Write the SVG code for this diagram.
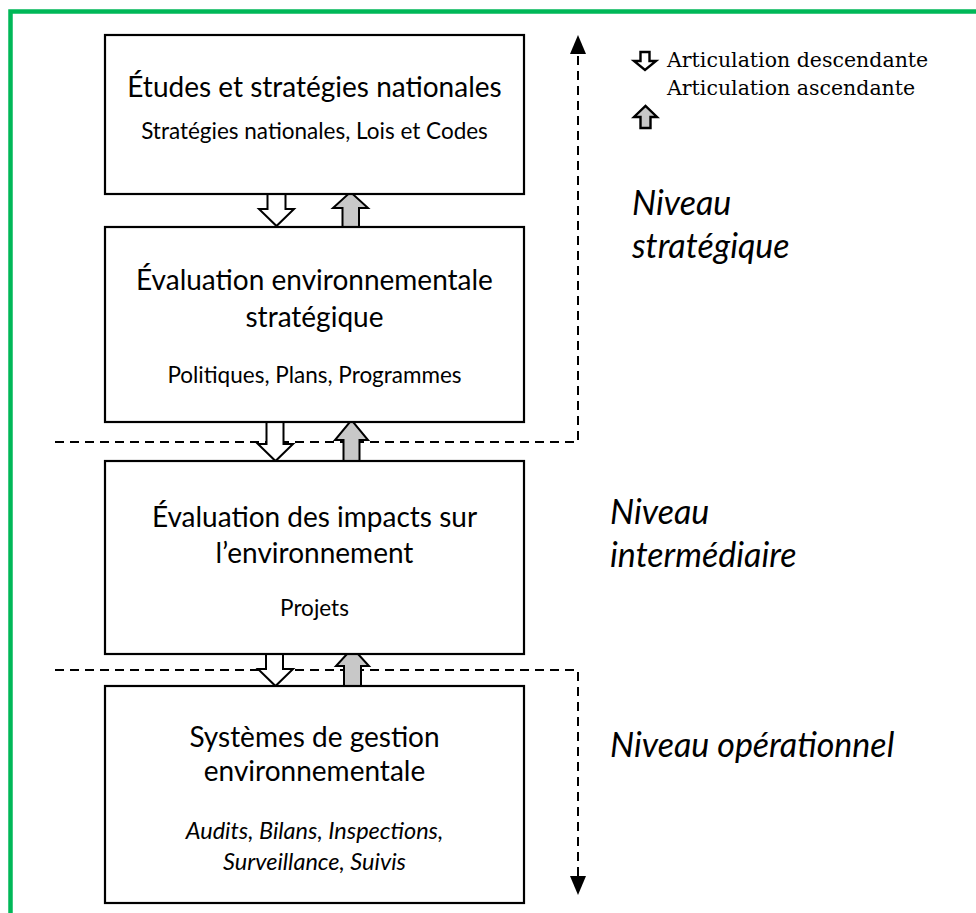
<svg xmlns="http://www.w3.org/2000/svg" width="976" height="913" viewBox="0 0 976 913">
<defs>
<style>
.box{fill:#fff;stroke:#000;stroke-width:2.2}
.t{font-family:Lato,"Open Sans","Liberation Sans",sans-serif;font-size:28px;fill:#000;text-anchor:middle}
.s{font-family:Lato,"Open Sans","Liberation Sans",sans-serif;font-size:22.5px;fill:#000;text-anchor:middle}
.si{font-family:Lato,"Open Sans","Liberation Sans",sans-serif;font-size:23.5px;font-style:italic;fill:#000;text-anchor:middle}
.lvl{font-family:Lato,"Open Sans","Liberation Sans",sans-serif;font-size:34px;font-style:italic;fill:#000}
.leg{font-family:"DejaVu Serif","Liberation Serif",serif;font-size:20.5px;fill:#000}
.dash{fill:none;stroke:#000;stroke-width:2;stroke-dasharray:9 6}
.dn{fill:#fff;stroke:#000;stroke-width:2;stroke-linejoin:miter}
.up{fill:#c8c8c8;stroke:#000;stroke-width:2;stroke-linejoin:miter}
.lg{stroke-width:2.4}
</style>
</defs>
<rect width="976" height="913" fill="#fff"/>
<g id="frame">
<path d="M10.5,913 V11.5 H976" fill="none" stroke="#00B858" stroke-width="4.5"/>
</g>

<g id="connectors">
<path class="dash" d="M55,442 H578 V54"/>
<path d="M578,35 L570,54 L586,54 Z" fill="#000"/>
<path class="dash" d="M55,670 H578 V876"/>
<path d="M578,895 L570,876 L586,876 Z" fill="#000"/>
<path class="dn" d="M267.5,194 H285.5 V209 H294 L276.5,226 L259,209 H267.5 Z"/>
<path class="up" d="M342.5,227 V208 H333 L350.5,192 L368,208 H359 V227 Z"/>
<path class="dn" d="M266.5,422 H283.5 V444 H293 L275.5,461 L258,444 H266.5 Z"/>
<path class="up" d="M343.5,461 V440 H335 L351.5,420 L368,440 H359.5 V461 Z"/>
<path class="dn" d="M266,654 H283 V669 H293 L275.5,686 L258,669 H266 Z"/>
<path class="up" d="M344,687 V666 H336 L352.5,648 L369,666 H361 V687 Z"/>
</g>

<g id="box1">
<rect class="box" x="105" y="35" width="419" height="159"/>
<text class="t" x="314.5" y="97">Études et stratégies nationales</text>
<text class="s" x="314.5" y="139">Stratégies nationales, Lois et Codes</text>
</g>
<g id="box2">
<rect class="box" x="105" y="227" width="419" height="195"/>
<text class="t" x="314.5" y="290">Évaluation environnementale</text>
<text class="t" x="314.5" y="327">stratégique</text>
<text class="s" x="314.5" y="383">Politiques, Plans, Programmes</text>
</g>
<g id="box3">
<rect class="box" x="105" y="461" width="419" height="193"/>
<text class="t" x="314.5" y="527">Évaluation des impacts sur</text>
<text class="t" x="314.5" y="563">l’environnement</text>
<text class="s" x="314.5" y="616">Projets</text>
</g>
<g id="box4">
<rect class="box" x="105" y="686" width="419" height="217"/>
<text class="t" x="314.5" y="747">Systèmes de gestion</text>
<text class="t" x="314.5" y="781">environnementale</text>
<text class="si" x="314.5" y="839">Audits, Bilans, Inspections,</text>
<text class="si" x="314.5" y="870">Surveillance, Suivis</text>
</g>

<g id="levels">
<text class="lvl" x="632" y="215">Niveau</text>
<text class="lvl" x="632" y="258">stratégique</text>
<text class="lvl" x="610" y="524">Niveau</text>
<text class="lvl" x="610" y="567">intermédiaire</text>
<text class="lvl" x="610" y="757">Niveau opérationnel</text>
</g>

<g id="legend">
<path class="dn lg" d="M640.5,52 H649.5 V61 H656 L645,70 L634,61 H640.5 Z"/>
<text class="leg" x="667" y="67">Articulation descendante</text>
<text class="leg" x="667" y="95">Articulation ascendante</text>
<path class="up lg" d="M640.5,128 V117 H634 L645.5,106 L657,117 H650.5 V128 Z"/>
</g>
</svg>
